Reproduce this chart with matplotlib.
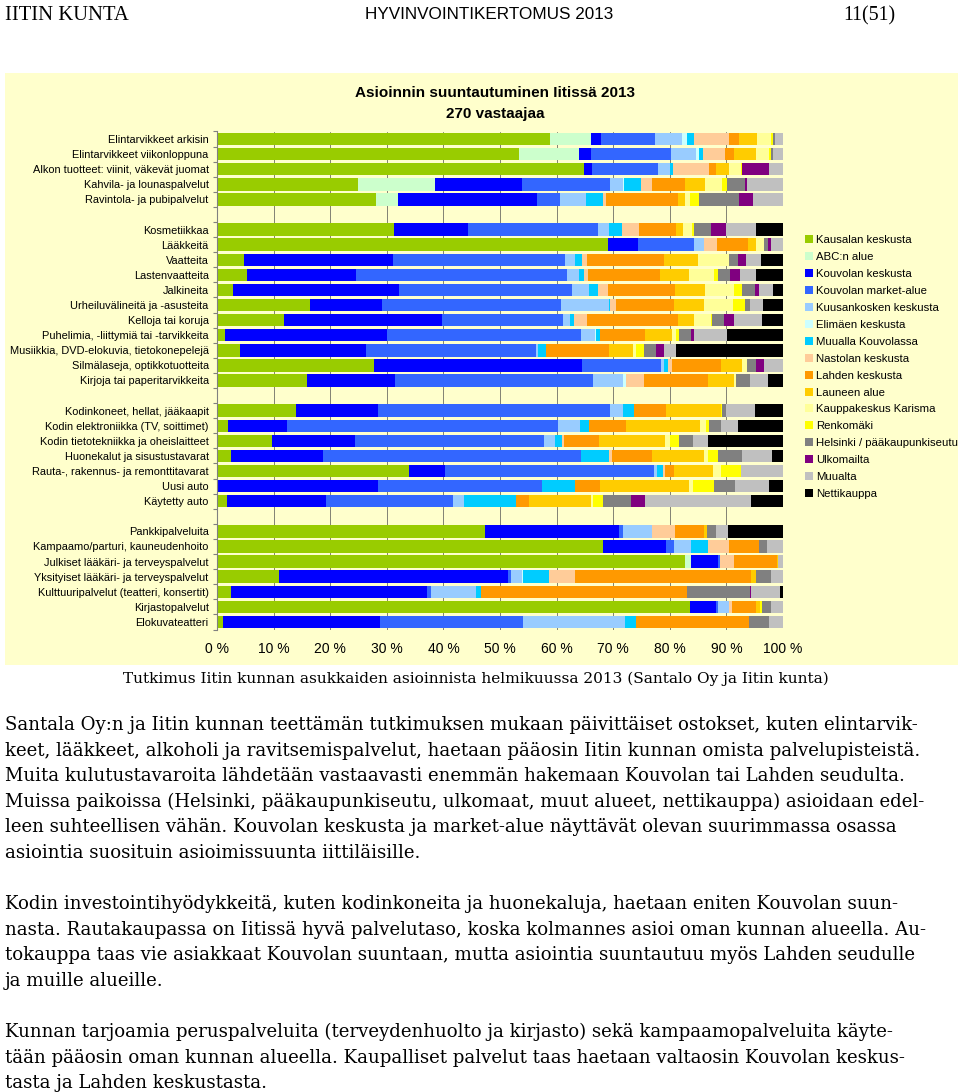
import matplotlib
matplotlib.use('Agg')
import matplotlib.pyplot as plt
from matplotlib.patches import Patch, Rectangle
from matplotlib.ticker import FixedLocator, PercentFormatter
import numpy as np

plt.rcParams['font.family'] = ['Liberation Sans', 'DejaVu Sans']

W, H = 960, 1092

categories = [
    "Elintarvikkeet arkisin", "Elintarvikkeet viikonloppuna",
    "Alkon tuotteet: viinit, väkevät juomat", "Kahvila- ja lounaspalvelut",
    "Ravintola- ja pubipalvelut",
    "Kosmetiikkaa", "Lääkkeitä", "Vaatteita", "Lastenvaatteita", "Jalkineita",
    "Urheiluvälineitä ja -asusteita", "Kelloja tai koruja",
    "Puhelimia, -liittymiä tai -tarvikkeita",
    "Musiikkia, DVD-elokuvia, tietokonepelejä",
    "Silmälaseja, optikkotuotteita", "Kirjoja tai paperitarvikkeita",
    "Kodinkoneet, hellat, jääkaapit", "Kodin elektroniikka (TV, soittimet)",
    "Kodin tietotekniikka ja oheislaitteet", "Huonekalut ja sisustustavarat",
    "Rauta-, rakennus- ja remonttitavarat", "Uusi auto", "Käytetty auto",
    "Pankkipalveluita", "Kampaamo/parturi, kauneudenhoito",
    "Julkiset lääkäri- ja terveyspalvelut",
    "Yksityiset lääkäri- ja terveyspalvelut",
    "Kulttuuripalvelut (teatteri, konsertit)", "Kirjastopalvelut",
    "Elokuvateatteri",
]
group_sizes = [5, 11, 7, 7]

series_names = [
    "Kausalan keskusta", "ABC:n alue", "Kouvolan keskusta",
    "Kouvolan market-alue", "Kuusankosken keskusta", "Elimäen keskusta",
    "Muualla Kouvolassa", "Nastolan keskusta", "Lahden keskusta",
    "Launeen alue", "Kauppakeskus Karisma", "Renkomäki",
    "Helsinki / pääkaupunkiseutu", "Ulkomailta", "Muualta", "Nettikauppa",
]
series_colors = [
    '#99CC00', '#CCFFCC', '#0000FF', '#3366FF', '#99CCFF', '#CCFFFF',
    '#00CCFF', '#FFCC99', '#FF9900', '#FFCC00', '#FFFF99', '#FFFF00',
    '#808080', '#800080', '#C0C0C0', '#000000',
]

# percentages per destination, one value per category
kausala = [58.9, 53.4, 64.9, 24.9, 28.1, 31.2, 69.1, 4.8, 5.3, 2.9, 16.4, 11.8, 1.4, 4.1, 27.7,
           15.9, 13.9, 2.0, 9.8, 2.5, 33.9, 0, 1.7, 47.4, 68.2, 82.6, 11.0, 2.5, 83.6, 1.0]
abc = [7.2, 10.5, 0, 13.7, 3.9, 0, 0, 0, 0, 0, 0, 0, 0, 0, 0,
       0, 0, 0, 0, 0, 0, 0, 0, 0, 0, 1.1, 0, 0, 0, 0]
kouv_kesk = [1.8, 2.1, 1.4, 15.2, 24.6, 13.2, 5.2, 26.3, 19.2, 29.3, 12.8, 27.9, 28.7, 22.3, 36.7,
             15.5, 14.5, 10.3, 14.6, 16.2, 6.4, 28.4, 17.6, 23.7, 11.1, 4.8, 40.5, 34.6, 4.5, 27.8]
kouv_market = [9.5, 14.2, 11.6, 15.6, 4.0, 23.0, 10.0, 30.3, 37.3, 30.5, 31.5, 21.5, 34.2, 29.9, 14.1,
               35.1, 41.1, 48.0, 33.3, 45.6, 36.9, 29.1, 22.4, 0.7, 1.5, 0.4, 0.4, 0.7, 0.4, 25.3]
kuusankoski = [4.7, 4.5, 2.1, 2.4, 4.6, 1.9, 1.7, 1.8, 2.2, 3.1, 8.5, 1.2, 2.4, 0.5, 0.4,
               5.3, 2.3, 3.8, 2.1, 0, 0.5, 0, 1.9, 5.0, 2.9, 0, 1.9, 7.9, 1.9, 18.0]
elimaki = [0.9, 0.5, 0, 0.1, 0, 0, 0, 0, 0, 0, 0, 0, 0.3, 0, 0,
           0.4, 0, 0, 0, 0, 0, 0, 0, 0, 0, 0, 0.3, 0, 0, 0]
muualla_kouv = [1.2, 0.6, 0.5, 3.0, 3.0, 2.3, 0, 1.3, 0.9, 1.6, 0.3, 0.6, 0.7, 1.3, 0.7,
                0, 1.8, 1.7, 1.1, 5.0, 1.1, 5.8, 9.2, 0, 3.0, 0, 4.5, 1.0, 0, 1.9]
nastola = [6.2, 4.0, 6.5, 1.9, 0.5, 3.0, 2.3, 0.9, 0.7, 1.7, 1.0, 2.3, 0, 0, 0.8,
           3.2, 0, 0, 0.4, 0.4, 0.4, 0, 0, 4.2, 3.8, 2.5, 4.6, 0, 0.6, 0]
lahti = [1.8, 1.5, 1.1, 5.9, 12.8, 6.5, 5.6, 13.6, 12.6, 11.9, 10.3, 16.2, 7.9, 11.1, 8.7,
         11.4, 5.8, 6.5, 6.2, 7.2, 1.6, 4.4, 2.3, 5.0, 5.3, 7.5, 31.1, 36.3, 4.3, 20.0]
launeen = [3.2, 4.0, 2.3, 3.6, 1.1, 1.2, 1.3, 5.9, 5.2, 5.2, 5.2, 2.8, 4.8, 4.3, 3.6,
           4.6, 9.6, 13.1, 11.7, 9.1, 6.9, 15.7, 10.9, 0.5, 0, 0.3, 0.9, 0, 0.6, 0]
karisma = [2.5, 2.3, 2.2, 2.9, 1.0, 1.6, 1.4, 5.5, 4.4, 5.1, 5.1, 3.0, 0.7, 0.6, 1.0,
           0.3, 0, 1.0, 0.8, 0.8, 1.4, 0.7, 0.5, 0, 0, 0, 0, 0, 0, 0]
renkomaki = [0.3, 0.3, 0.2, 0.9, 1.6, 0.4, 0, 0, 0.8, 1.4, 2.2, 0.2, 0.6, 1.3, 0,
             0, 0.3, 0.6, 1.6, 1.7, 3.5, 3.7, 1.7, 0, 0, 0, 0, 0, 0.4, 0]
helsinki = [0.4, 0.3, 0, 3.2, 7.0, 3.0, 0.7, 1.6, 2.1, 2.3, 0.8, 2.1, 2.0, 2.2, 1.6,
            2.4, 0.7, 2.1, 2.5, 4.2, 0, 3.8, 4.9, 1.6, 1.3, 0, 2.7, 11.1, 1.6, 3.5]
ulkomailta = [0, 0, 4.8, 0.4, 2.5, 2.7, 0.6, 1.5, 1.7, 0.8, 0, 1.8, 0.5, 1.4, 1.3,
              0, 0, 0, 0, 0, 0, 0, 2.6, 0, 0, 0, 0, 0.2, 0, 0]
muualta = [1.4, 1.8, 2.4, 6.3, 5.3, 5.2, 2.1, 2.6, 2.9, 2.4, 2.4, 4.9, 5.9, 2.1, 3.4,
           3.2, 5.0, 2.9, 2.6, 5.3, 7.4, 5.9, 18.6, 2.1, 2.9, 0.8, 2.1, 5.1, 2.1, 2.5]
netti = [0, 0, 0, 0, 0, 4.8, 0, 3.9, 4.7, 1.8, 3.5, 3.7, 9.9, 18.9, 0,
         2.7, 5.0, 8.0, 13.3, 2.0, 0, 2.5, 5.7, 9.8, 0, 0, 0, 0.6, 0, 0]

series_values = [kausala, abc, kouv_kesk, kouv_market, kuusankoski, elimaki,
                 muualla_kouv, nastola, lahti, launeen, karisma, renkomaki,
                 helsinki, ulkomailta, muualta, netti]

xticks = [0, 10, 20, 30, 40, 50, 60, 70, 80, 90, 100]

chart_title = "Asioinnin suuntautuminen Iitissä 2013"
chart_subtitle = "270 vastaajaa"
caption = "Tutkimus Iitin kunnan asukkaiden asioinnista helmikuussa 2013 (Santalo Oy ja Iitin kunta)"
body_lines = [
    "Santala Oy:n ja Iitin kunnan teettämän tutkimuksen mukaan päivittäiset ostokset, kuten elintarvik-",
    "keet, lääkkeet, alkoholi ja ravitsemispalvelut, haetaan pääosin Iitin kunnan omista palvelupisteistä.",
    "Muita kulutustavaroita lähdetään vastaavasti enemmän hakemaan Kouvolan tai Lahden seudulta.",
    "Muissa paikoissa (Helsinki, pääkaupunkiseutu, ulkomaat, muut alueet, nettikauppa) asioidaan edel-",
    "leen suhteellisen vähän. Kouvolan keskusta ja market-alue näyttävät olevan suurimmassa osassa",
    "asiointia suosituin asioimissuunta iittiläisille.",
    "",
    "Kodin investointihyödykkeitä, kuten kodinkoneita ja huonekaluja, haetaan eniten Kouvolan suun-",
    "nasta. Rautakaupassa on Iitissä hyvä palvelutaso, koska kolmannes asioi oman kunnan alueella. Au-",
    "tokauppa taas vie asiakkaat Kouvolan suuntaan, mutta asiointia suuntautuu myös Lahden seudulle",
    "ja muille alueille.",
    "",
    "Kunnan tarjoamia peruspalveluita (terveydenhuolto ja kirjasto) sekä kampaamopalveluita käyte-",
    "tään pääosin oman kunnan alueella. Kaupalliset palvelut taas haetaan valtaosin Kouvolan keskus-",
    "tasta ja Lahden keskustasta.",
]

BG = '#FFFFCC'


def fx(x):
    return x / W


def fy(y):
    return 1 - y / H


fig = plt.figure(figsize=(W / 100, H / 100), dpi=100)
renderer = fig.canvas.get_renderer()


def fit_text(s, x0, x1, ybase, family, weight='normal'):
    t = fig.text(fx(x0), fy(ybase), s, fontsize=12, family=family,
                 weight=weight, va='baseline', ha='left', color='black')
    w = t.get_window_extent(renderer).width
    t.set_fontsize(12 * (x1 - x0) / w)
    return t


# chart picture background (behind the axes)
fig.patches.append(Rectangle((fx(5), fy(665)), fx(958) - fx(5), fy(73) - fy(665),
                             transform=fig.transFigure, facecolor=BG,
                             edgecolor='none', zorder=-5))

# y slots with blank rows between groups
ypos = []
slot = 0
for n in group_sizes:
    for i in range(n):
        ypos.append(slot)
        slot += 1
    slot += 1
n_slots = slot - 1
ypos = np.array(ypos)

top_px, bot_px = 131.5, 629.5
ax = fig.add_axes([fx(217), fy(bot_px), fx(783) - fx(217), fy(top_px) - fy(bot_px)])
ax.set_zorder(2)
ax.set_facecolor(BG)

left = np.zeros(len(categories))
for name, vals, col in zip(series_names, series_values, series_colors):
    vals = np.array(vals, dtype=float)
    ax.barh(ypos, vals, left=left, height=0.82, color=col, edgecolor='none',
            label=name, zorder=2)
    left += vals

ax.set_xlim(0, 100)
ax.set_ylim(n_slots - 0.5, -0.5)
ax.set_xticks(xticks)
ax.xaxis.set_major_formatter(PercentFormatter(decimals=0, symbol=' %'))
ax.tick_params(axis='x', length=0, pad=9, labelsize=10)
ax.set_yticks(ypos)
ax.set_yticklabels(categories, fontsize=7.9)
ax.tick_params(axis='y', which='major', length=0, pad=6)
ax.yaxis.set_minor_locator(FixedLocator(np.arange(-0.5, n_slots, 1.0)))
ax.tick_params(axis='y', which='minor', length=3, color='#808080', width=0.8)
ax.xaxis.grid(True, color='#505050', linewidth=0.5, zorder=1)
ax.set_axisbelow(True)
for s in ['top', 'right', 'bottom']:
    ax.spines[s].set_visible(False)
ax.spines['left'].set_color('#808080')
ax.spines['left'].set_linewidth(0.8)

handles = [Patch(facecolor=c, edgecolor='none') for c in series_colors]
leg = fig.legend(handles, series_names, loc='upper left',
                 bbox_to_anchor=(fx(805), fy(235)), frameon=False, fontsize=8.2,
                 handlelength=0.7, handleheight=0.7, handletextpad=0.3,
                 labelspacing=0.61, borderpad=0, borderaxespad=0)
leg.set_zorder(3)

fig.text(fx(495), fy(93), chart_title, ha='center', va='center',
         fontsize=11, weight='bold', zorder=3)
fig.text(fx(495), fy(114), chart_subtitle, ha='center', va='center',
         fontsize=11, weight='bold', zorder=3)

# page header
fit_text("IITIN KUNTA", 5, 128, 20, 'Liberation Serif')
fit_text("HYVINVOINTIKERTOMUS 2013", 365, 613, 19, 'Liberation Sans')
fit_text("11(51)", 843, 896, 20, 'Liberation Serif')

# caption and body text
fit_text(caption, 123, 826, 683, 'DejaVu Serif')
first = fit_text(body_lines[0], 5, 913, 730, 'DejaVu Serif')
body_size = first.get_fontsize()
base = 730
for line in body_lines[1:]:
    base += 25.6
    if line:
        fig.text(fx(5), fy(base), line, fontsize=body_size, family='DejaVu Serif',
                 va='baseline', ha='left')

fig.savefig('out.png', dpi=100)
